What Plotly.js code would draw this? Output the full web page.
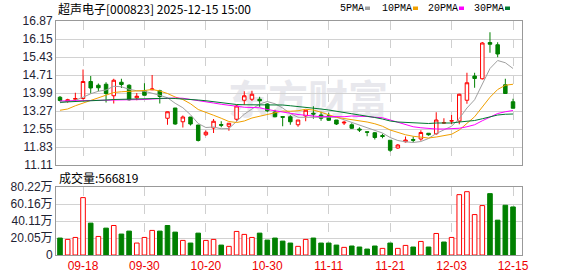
<!DOCTYPE html>
<html><head><meta charset="utf-8">
<script src="https://cdn.plot.ly/plotly-3.0.1.min.js"></script>
<style>html,body{margin:0;padding:0;background:#fff;}#chart{width:578px;height:276px;}</style>
</head><body><div id="chart"></div>
<script>
const dates = ["09-15","09-16","09-17","09-18","09-19","09-22","09-23","09-24","09-25","09-26","09-29","09-30",
"10-09","10-10","10-13","10-14","10-15","10-16","10-17","10-20","10-21","10-22","10-23","10-24","10-27","10-28","10-29","10-30","10-31",
"11-03","11-04","11-05","11-06","11-07","11-10","11-11","11-12","11-13","11-14","11-17","11-18","11-19","11-20","11-21","11-24","11-25","11-26","11-27","11-28",
"12-01","12-02","12-03","12-04","12-05","12-08","12-09","12-10","12-11","12-12","12-15"];
const openP = [13.82,13.66,13.74,13.77,14.45,14.30,14.34,13.88,14.42,14.30,13.80,14.08,14.12,14.08,12.98,13.39,12.84,13.03,12.71,12.32,
12.59,12.73,12.66,12.94,13.70,13.74,13.74,13.55,13.23,13.05,13.04,12.72,13.07,13.18,13.11,13.08,12.91,12.79,12.72,12.55,
12.44,12.40,12.29,12.10,11.79,12.04,12.13,12.15,12.38,12.36,12.79,12.87,12.87,13.70,14.67,14.56,16.01,15.92,14.32,13.64];
const highP = [13.87,13.76,14.00,14.93,14.67,14.37,14.42,14.56,14.56,14.34,13.99,14.38,14.71,14.12,13.25,13.39,13.09,13.03,12.71,12.49,
12.95,12.86,12.78,13.52,14.06,14.08,13.84,13.58,13.32,13.05,13.10,12.91,13.31,13.46,13.24,13.20,12.91,12.88,12.78,12.62,
12.44,12.43,12.36,12.10,11.95,12.25,12.25,12.50,12.38,13.22,12.98,13.11,13.96,14.80,14.80,16.03,16.42,16.02,14.56,13.76];
const lowP = [13.65,13.60,13.64,13.73,13.97,14.06,13.61,13.57,14.19,13.69,13.70,13.90,14.10,13.57,12.72,12.72,12.61,12.69,12.05,12.27,
12.39,12.62,12.48,12.88,13.51,13.67,13.44,13.23,13.02,12.66,12.72,12.64,12.86,12.96,12.88,12.87,12.71,12.71,12.55,12.43,
12.26,12.13,12.18,11.64,11.76,12.01,12.01,12.08,12.28,12.32,12.77,12.74,12.74,13.56,14.20,14.53,15.60,15.42,13.97,13.38];
const closeP = [13.69,13.72,13.77,14.45,14.19,14.20,13.97,14.50,14.33,13.72,13.86,13.90,14.15,13.85,13.24,12.75,13.03,12.75,12.09,12.42,
12.86,12.70,12.78,13.47,13.88,13.94,13.68,13.28,13.04,13.02,12.84,12.91,13.30,13.15,12.98,12.90,12.75,12.82,12.58,12.51,
12.42,12.21,12.25,11.70,11.91,12.11,12.10,12.41,12.32,12.91,12.80,12.88,13.94,14.40,14.57,15.99,15.94,15.55,13.97,13.38];
const volume = [20.0,18.4,20.7,67.7,37.6,21.9,31.7,34.8,24.7,28.2,14.1,20.7,29.0,28.2,34.8,27.0,17.2,14.1,25.8,17.2,
18.4,11.7,10.2,27.8,24.3,20.7,25.8,17.6,20.0,16.4,14.1,10.2,18.4,20.0,14.1,14.1,11.7,9.0,10.6,9.4,
7.0,10.6,7.8,14.1,7.8,11.3,9.4,16.0,9.4,25.4,15.3,20.7,71.2,74.7,47.7,58.3,72.4,41.1,58.7,56.6819];
const ma5 = [13.60,13.64,13.70,13.82,13.96,14.06,14.11,14.26,14.24,14.14,14.08,14.06,13.99,13.90,13.80,13.58,13.40,13.12,12.77,12.61,
12.63,12.56,12.57,12.85,13.14,13.35,13.55,13.65,13.56,13.39,13.17,13.02,13.02,13.05,13.04,13.05,13.02,12.92,12.81,12.71,
12.61,12.50,12.39,12.21,12.09,12.04,12.01,12.05,12.17,12.37,12.51,12.66,12.97,13.39,13.72,14.36,14.97,15.29,15.20,14.97];
const ma10 = [13.30,13.35,13.48,13.59,13.68,13.81,13.90,14.01,14.04,14.05,14.07,14.09,14.13,14.07,13.97,13.83,13.73,13.56,13.33,13.20,
13.10,12.98,12.85,12.81,12.87,12.99,13.06,13.11,13.21,13.27,13.26,13.28,13.34,13.31,13.22,13.11,13.02,12.97,12.93,12.88,
12.83,12.76,12.66,12.51,12.40,12.32,12.26,12.22,12.19,12.23,12.27,12.34,12.51,12.78,13.04,13.43,13.82,14.13,14.30,14.34];
const ma20 = [13.67,13.67,13.68,13.69,13.70,13.70,13.70,13.71,13.71,13.71,13.72,13.73,13.75,13.77,13.79,13.79,13.78,13.74,13.68,13.63,
13.59,13.54,13.49,13.44,13.42,13.41,13.40,13.33,13.27,13.23,13.18,13.13,13.09,13.06,13.04,13.05,13.04,13.04,13.07,13.07,
13.05,13.02,13.00,12.91,12.81,12.72,12.64,12.60,12.56,12.55,12.55,12.55,12.58,12.64,12.72,12.88,13.04,13.17,13.24,13.29];
const ma30 = [13.62,13.63,13.64,13.66,13.68,13.70,13.71,13.73,13.74,13.75,13.76,13.76,13.77,13.78,13.78,13.77,13.76,13.74,13.71,13.68,
13.64,13.60,13.56,13.53,13.52,13.52,13.52,13.52,13.52,13.51,13.48,13.45,13.44,13.39,13.35,13.31,13.27,13.21,13.16,13.11,
13.07,13.01,12.95,12.87,12.83,12.81,12.78,12.77,12.77,12.79,12.79,12.79,12.83,12.86,12.89,12.96,13.03,13.11,13.14,13.15];
const priceTicks = [11.11,11.83,12.55,13.27,13.99,14.71,15.43,16.15,16.87];
const volTicks = [0,20.05,40.11,60.16,80.22];
const volTickText = ["0","20.05万","40.11万","60.16万","80.22万"];
const xTickLabels = ["09-18","09-30","10-20","10-30","11-11","11-21","12-03","12-15"];
const maNames = ["5PMA","10PMA","20PMA","30PMA"];
const stockTitle = "超声电子[000823] 2025-12-15 15:00";
const volLabel = "成交量";

const RED = "#ff0000", GREEN = "#008000";
const maColors = ["#a0a0a0","#f0a000","#ff00ff","#007a30"];
const L=56, R=522, T=21, B=255;
const px = x => (x-L)/(R-L);
const py = y => (B-y)/(B-T);

const volRise = closeP.map((c,i)=> i===0 ? c>=openP[0] : c>=closeP[i-1]);
const traces = [
  {type:"candlestick", x:dates, open:openP, high:highP, low:lowP, close:closeP, xaxis:"x2", yaxis:"y",
   increasing:{line:{color:RED,width:1}, fillcolor:"#ffffff"},
   decreasing:{line:{color:GREEN,width:1}, fillcolor:GREEN},
   whiskerwidth:0, hoverinfo:"none"},
];
[ma5,ma10,ma20,ma30].forEach((m,k)=>traces.push({type:"scatter", mode:"lines", x:dates, y:m, xaxis:"x2", yaxis:"y",
  line:{color:maColors[k], width:1}, hoverinfo:"none"}));
traces.push({type:"bar", x:dates, y:volume, xaxis:"x", yaxis:"y2", width:0.6,
  marker:{color:volRise.map(r=>r?"#ffffff":GREEN), line:{color:volRise.map(r=>r?RED:GREEN), width:1}}, hoverinfo:"none"});

const tickFont = {family:"Liberation Sans, Noto Sans CJK SC", size:12, color:"#1e2233"};
const gx = {type:"category", range:[-0.52,60.17], tickvals:xTickLabels, ticktext:xTickLabels,
  showgrid:true, gridcolor:"#cfcfcf", griddash:"dash", gridwidth:1, zeroline:false,
  showline:true, mirror:true, linecolor:"#999999", linewidth:1, ticks:"", fixedrange:true,
  rangeslider:{visible:false}};
const annotations = [
  {xref:"paper", yref:"paper", x:px(56), y:py(8.7), xanchor:"left", yanchor:"middle", showarrow:false,
   text:stockTitle, font:{family:"Noto Sans CJK SC", size:12, color:"#000"}},
  {xref:"paper", yref:"paper", x:px(57), y:py(177), xanchor:"left", yanchor:"middle", showarrow:false,
   text:volLabel+":"+Math.round(volume[volume.length-1]*10000), font:{family:"Noto Sans CJK SC, Liberation Sans", size:12, color:"#000"}}
];
const legX = [338,380,426,472], sqX = [365,413,459,505];
const shapes = [];
maNames.forEach((nm,k)=>{
  annotations.push({xref:"paper", yref:"paper", x:px(legX[k]), y:py(8.5), xanchor:"left", yanchor:"middle", showarrow:false,
    text:nm, font:{family:"Liberation Mono", size:10, color:"#000"}});
  shapes.push({type:"rect", xref:"paper", yref:"paper", x0:px(sqX[k]), x1:px(sqX[k]+5), y0:py(10), y1:py(6.5),
    fillcolor:maColors[k], line:{width:0}});
});
shapes.push({type:"rect", xref:"paper", yref:"paper", x0:px(236), x1:px(380), y0:py(122), y1:py(84),
  fillcolor:"rgba(0,0,0,0)", line:{width:0}, layer:"between",
  label:{text:"东方财富", textposition:"middle center", font:{family:"Noto Sans CJK SC", size:40, weight:"bold", color:"#e8e8ed"}}});

const layout = {
  width:578, height:276, margin:{l:L, r:578-R, t:T, b:276-B, pad:0},
  paper_bgcolor:"#fff", plot_bgcolor:"#fff", showlegend:false, boxgap:0.35,
  font:tickFont,
  xaxis:Object.assign({}, gx, {anchor:"y2", domain:[0,1], showticklabels:true, tickfont:{family:"Liberation Sans", size:12, color:"#ee0000"}}),
  xaxis2:Object.assign({}, gx, {anchor:"y", domain:[0,1], matches:"x", showticklabels:false}),
  yaxis:{domain:[py(165),1], range:[11.11,16.87], tickvals:priceTicks, ticktext:priceTicks.map(v=>v.toFixed(2)),
    showgrid:true, gridcolor:"#d2d2d2", gridwidth:1, zeroline:false, showline:true, mirror:true, linecolor:"#999999",
    ticks:"", tickfont:tickFont, anchor:"x2", fixedrange:true},
  yaxis2:{domain:[0,py(187)], range:[0,80.22], tickvals:volTicks, ticktext:volTickText,
    showgrid:true, gridcolor:"#d2d2d2", gridwidth:1, zeroline:false, showline:true, mirror:true, linecolor:"#999999",
    ticks:"", tickfont:tickFont, anchor:"x", fixedrange:true},
  annotations:annotations, shapes:shapes
};
Plotly.newPlot("chart", traces, layout, {staticPlot:true, displayModeBar:false});
</script></body></html>
